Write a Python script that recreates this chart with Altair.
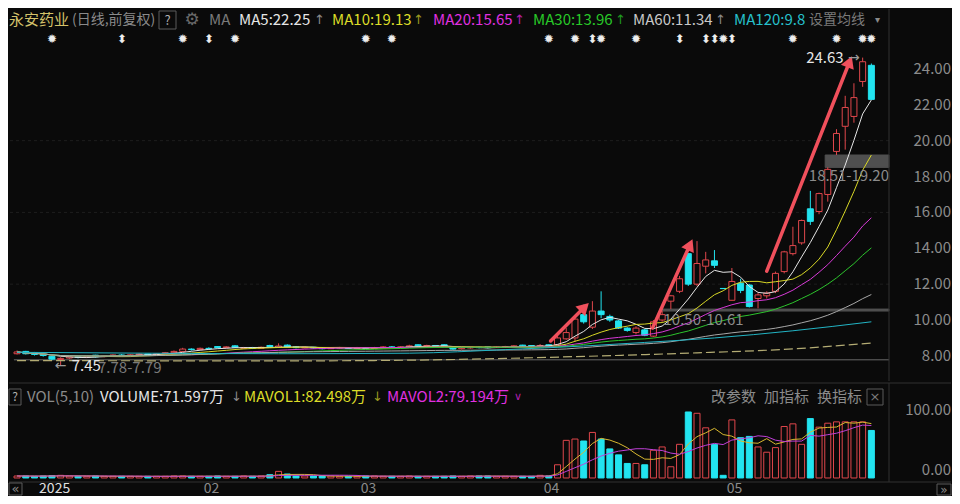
import math
import altair as alt
import pandas as pd
import numpy as np

# ---------------- data ----------------
opens = [
    8.12, 8.25, 8.18, 8.08, 7.98, 7.80, 7.88, 7.96, 7.92, 8.04,
    7.96, 8.00, 8.05, 8.02, 8.06, 8.10, 8.06, 8.12, 8.18, 8.25,
    8.38, 8.35, 8.42, 8.52, 8.46, 8.56, 8.42, 8.46, 8.42, 8.58,
    8.48, 8.60, 8.50, 8.45, 8.48, 8.46, 8.40, 8.44, 8.46, 8.42,
    8.45, 8.42, 8.46, 8.50, 8.48, 8.50, 8.62, 8.56, 8.58, 8.62,
    8.52, 8.40, 8.44, 8.48, 8.50, 8.46, 8.50, 8.52, 8.60, 8.58,
    8.52, 8.62, 8.62, 8.95, 9.00, 10.30, 9.60, 10.50, 10.20, 9.95,
    9.55, 9.30, 9.45, 9.10, 10.00, 11.05, 11.60, 13.70, 12.00, 13.00,
    13.30, 11.76, 11.10, 12.05, 11.95, 11.20, 11.35, 11.60, 12.70, 13.70,
    14.30, 16.20, 16.05, 17.00, 19.40, 20.80, 21.35, 23.30, 24.20]
closes = [
    8.22, 8.12, 8.08, 8.02, 7.82, 7.86, 7.95, 7.92, 7.98, 7.95,
    8.00, 8.05, 8.02, 8.06, 8.10, 8.05, 8.12, 8.18, 8.25, 8.38,
    8.35, 8.42, 8.40, 8.46, 8.50, 8.48, 8.46, 8.42, 8.48, 8.52,
    8.55, 8.50, 8.46, 8.48, 8.44, 8.40, 8.44, 8.46, 8.42, 8.45,
    8.42, 8.46, 8.50, 8.48, 8.50, 8.56, 8.56, 8.58, 8.54, 8.56,
    8.38, 8.44, 8.48, 8.46, 8.46, 8.50, 8.52, 8.56, 8.54, 8.52,
    8.58, 8.56, 9.00, 9.30, 10.05, 9.90, 10.50, 10.30, 10.00, 9.55,
    9.42, 9.55, 9.15, 9.90, 10.30, 11.35, 12.30, 12.00, 13.15, 13.35,
    13.05, 11.75, 12.15, 11.65, 10.75, 11.40, 11.50, 12.60, 13.80, 14.15,
    15.55, 15.50, 17.05, 18.40, 20.40, 21.85, 22.40, 24.40, 22.30]
highs = [
    8.30, 8.28, 8.22, 8.12, 8.02, 7.92, 7.99, 8.00, 8.02, 8.06,
    8.04, 8.08, 8.10, 8.10, 8.14, 8.12, 8.16, 8.22, 8.30, 8.45,
    8.42, 8.46, 8.48, 8.55, 8.54, 8.60, 8.50, 8.50, 8.52, 8.62,
    8.70, 8.64, 8.54, 8.52, 8.50, 8.48, 8.48, 8.50, 8.48, 8.50,
    8.48, 8.50, 8.54, 8.55, 8.54, 8.62, 8.64, 8.62, 8.60, 8.64,
    8.54, 8.48, 8.52, 8.52, 8.52, 8.54, 8.56, 8.60, 8.62, 8.60,
    8.66, 8.64, 9.10, 9.55, 10.20, 10.85, 11.05, 11.60, 10.30, 10.00,
    9.60, 9.65, 9.50, 10.00, 10.50, 11.40, 12.46, 13.70, 14.40, 13.80,
    13.90, 11.76, 12.90, 12.30, 12.00, 11.50, 11.60, 12.70, 13.86, 15.20,
    15.60, 17.20, 17.10, 18.51, 20.64, 22.50, 23.20, 24.63, 24.30]
lows = [
    8.08, 8.08, 8.02, 7.96, 7.76, 7.45, 7.82, 7.86, 7.88, 7.90,
    7.92, 7.96, 7.98, 7.99, 8.02, 8.00, 8.03, 8.08, 8.15, 8.22,
    8.30, 8.32, 8.36, 8.42, 8.42, 8.45, 8.40, 8.38, 8.40, 8.48,
    8.45, 8.46, 8.42, 8.42, 8.40, 8.36, 8.38, 8.40, 8.38, 8.40,
    8.38, 8.40, 8.44, 8.45, 8.44, 8.48, 8.52, 8.52, 8.50, 8.52,
    8.34, 8.36, 8.40, 8.42, 8.42, 8.44, 8.46, 8.48, 8.50, 8.48,
    8.50, 8.52, 8.58, 8.90, 8.80, 9.80, 9.50, 10.10, 9.90, 9.50,
    9.35, 9.20, 9.10, 9.05, 9.90, 10.61, 11.50, 11.90, 11.90, 12.60,
    12.90, 11.75, 11.10, 11.50, 10.70, 10.65, 11.20, 11.50, 12.60, 13.60,
    14.20, 15.30, 15.90, 16.60, 19.20, 19.50, 21.00, 23.00, 22.30]
volumes = [  # 万手
    3, 3, 2.5, 3, 3.5, 4, 3, 2.5, 2.5, 3,
    2.5, 2.5, 2.5, 2.5, 2.5, 2.5, 2.5, 2.5, 3, 3,
    2.5, 2.5, 2.5, 3, 2.5, 2.5, 3, 2.5, 3, 5,
    10, 6, 3, 3, 3, 3, 3, 2.5, 2.5, 2.5,
    3, 3, 2.5, 2.5, 2.5, 3, 2.5, 2.5, 2.5, 2.5,
    3, 2.5, 3, 3, 3, 2.5, 2.5, 2.5, 2.5, 2.5,
    4, 3, 20, 57, 59, 56, 69, 59, 44, 35,
    22, 22, 20, 42, 47, 17, 51, 100, 98, 76,
    51, 4, 88, 61, 63, 47, 39, 46, 78, 82,
    51, 90, 77, 83, 85, 85, 85, 85, 72]

# long moving averages (bar index, value)
ma120_i = [0, 15, 30, 45, 56, 65, 72, 80, 89, 98]
ma120_v = [8.20, 8.15, 8.12, 8.15, 8.35, 8.55, 8.75, 9.00, 9.40, 9.90]
ma250_i = [0, 30, 45, 56, 67, 78, 89, 98]
ma250_v = [7.74, 7.72, 7.76, 7.86, 8.00, 8.17, 8.39, 8.72]

# gap zones
gap_start = [-0.35, 73.7, 92.7]
gap_lo = [7.78, 10.50, 18.51]
gap_hi = [7.79, 10.61, 19.20]

# hand-drawn arrows (bar index, price)
arrow_x0 = [61.2, 72.9, 86.0]
arrow_y0 = [8.83, 9.56, 12.72]
arrow_x1 = [65.1, 77.2, 95.5]
arrow_y1 = [10.72, 14.20, 24.40]

# event markers
star_i = [4, 12, 19, 22, 25, 40, 43, 61, 64, 66, 67, 71, 76, 79, 80, 81, 82, 89, 94, 97, 98]
star_s = ["✹", "⬍", "✹", "⬍", "✹", "✹", "✹", "✹", "✹", "⬍", "✹", "✹", "⬍", "⬍", "⬍", "✹", "⬍", "✹", "✹", "✹", "✹"]

month_i = [5, 23, 41, 62, 83]
month_lbl = ["2025", "02", "03", "04", "05"]

price_ticks = [8, 10, 12, 14, 16, 18, 20, 22, 24]
grid_prices = [12, 16, 20]
vol_top_tick = 100
vol_zero_tick = 0

high_mark_i, high_mark_v = 97, 24.63
low_mark_i, low_mark_v = 5, 7.45

assert len(opens) == len(closes) == len(highs) == len(lows) == len(volumes) == 99

# ---------------- styling ----------------
FONT = "Noto Sans CJK SC"
SYM = "DejaVu Sans"
BG = "#0a0a0a"
RED = "#e0474c"
CYAN = "#22e4f0"
ARROW = "#f0505c"
GRID = "#1e1e1e"
SEP = "#303030"
TXT_G = "#8a8a8a"

W, HP, HV = 880, 372, 112
X_DOM = [-0.35, 99.45]
P_DOM = [6.60, 27.34]
V_DOM = [-25.8, 143.9]
KX = W / (X_DOM[1] - X_DOM[0])
KY = HP / (P_DOM[1] - P_DOM[0])
HY = 11      # header row
VH = 14      # volume header row
DATE_Y = 106

df = pd.DataFrame({"i": range(99), "open": opens, "high": highs, "low": lows,
                   "close": closes, "vol": volumes})
df["up"] = df["close"] >= df["open"]
for n in (5, 10, 20, 30, 60):
    df[f"ma{n}"] = df["close"].rolling(n, min_periods=1).mean()
df["mavol1"] = df["vol"].rolling(5, min_periods=1).mean()
df["mavol2"] = df["vol"].rolling(10, min_periods=1).mean()

xs = alt.Scale(domain=X_DOM, nice=False, zero=False)
ps = alt.Scale(domain=P_DOM, nice=False, zero=False)
vs = alt.Scale(domain=V_DOM, nice=False, zero=False)


def X(f="i"):
    return alt.X(f"{f}:Q", scale=xs, axis=None)


def PY(f):
    return alt.Y(f"{f}:Q", scale=ps, axis=None)


def VY(f):
    return alt.Y(f"{f}:Q", scale=vs, axis=None)


def txt(s, x, y, color, size=15, align="left", font=FONT, weight="normal"):
    return alt.Chart(pd.DataFrame({"t": [s]})).mark_text(
        align=align, baseline="middle", font=font, fontSize=size, color=color,
        fontWeight=weight).encode(x=alt.value(x), y=alt.value(y), text="t:N")


def box(x0, x1, y0, y1, color="#5a5a5a"):
    return alt.Chart(pd.DataFrame({"a": [0]})).mark_rect(
        fillOpacity=0, stroke=color, strokeWidth=1).encode(
        x=alt.value(x0), x2=alt.value(x1), y=alt.value(y0), y2=alt.value(y1))


def hline(y, x0, x1, color=SEP):
    return alt.Chart(pd.DataFrame({"a": [0]})).mark_rule(color=color, strokeWidth=1).encode(
        x=alt.value(x0), x2=alt.value(x1), y=alt.value(y))


def vline(x, y0, y1, color=SEP):
    return alt.Chart(pd.DataFrame({"a": [0]})).mark_rule(color=color, strokeWidth=1).encode(
        x=alt.value(x), y=alt.value(y0), y2=alt.value(y1))


up_or = lambda a, b: alt.condition("datum.up", alt.value(a), alt.value(b))

base = alt.Chart(df)

# ---------------- price panel ----------------
grid = alt.Chart(pd.DataFrame({"p": grid_prices})).mark_rule(
    color=GRID, strokeDash=[3, 3], strokeWidth=1).encode(y=PY("p"))

gaps = alt.Chart(pd.DataFrame({"s": gap_start, "lo": gap_lo, "hi": gap_hi})).mark_rect(
    fill="#5c5c5c", stroke="#5c5c5c", strokeWidth=1, opacity=0.85).encode(
    x=X("s"), x2=alt.value(W), y=PY("lo"), y2="hi")

wick = base.mark_rule(strokeWidth=1).encode(
    x=X(), y=PY("low"), y2="high", color=up_or(RED, CYAN))
body = base.mark_bar(size=6, strokeWidth=1).encode(
    x=X(), y=PY("open"), y2="close", fill=up_or(BG, CYAN), stroke=up_or(RED, CYAN))

ma_colors = {5: "#e6e6e6", 10: "#d8d826", 20: "#d83ad8", 30: "#2cc42c", 60: "#a8a8a8"}
ma_lines = [base.mark_line(color=c, strokeWidth=1).encode(x=X(), y=PY(f"ma{n}"))
            for n, c in ma_colors.items()]
ma120 = alt.Chart(pd.DataFrame({"i": ma120_i, "v": ma120_v})).mark_line(
    color="#22b4c4", strokeWidth=1, interpolate="monotone").encode(x=X(), y=PY("v"))
ma250 = alt.Chart(pd.DataFrame({"i": ma250_i, "v": ma250_v})).mark_line(
    color="#b4ac74", strokeWidth=1.2, strokeDash=[9, 4], interpolate="monotone").encode(x=X(), y=PY("v"))

ang = [math.degrees(math.atan2((x1 - x0) * KX, (y1 - y0) * KY))
       for x0, y0, x1, y1 in zip(arrow_x0, arrow_y0, arrow_x1, arrow_y1)]
arr_df = pd.DataFrame({"x0": arrow_x0, "y0": arrow_y0, "x1": arrow_x1, "y1": arrow_y1, "ang": ang})
shaft = alt.Chart(arr_df).mark_rule(color=ARROW, strokeWidth=3.5, strokeCap="round").encode(
    x=X("x0"), y=PY("y0"), x2="x1", y2="y1")
head = alt.Chart(arr_df).mark_point(shape="triangle-up", filled=True, size=190, color=ARROW,
                                    opacity=1).encode(
    x=X("x1"), y=PY("y1"), angle=alt.Angle("ang:Q", scale=None))

stars = alt.Chart(pd.DataFrame({"i": star_i, "s": star_s})).mark_text(
    font=SYM, fontSize=12, color="#ededed", baseline="middle").encode(
    x=X(), y=alt.value(30), text="s:N")

hi_df = pd.DataFrame({"i": [high_mark_i], "v": [high_mark_v], "t": [f"{high_mark_v:.2f}"]})
hi_txt = alt.Chart(hi_df).mark_text(align="right", baseline="middle", font=FONT, fontSize=15,
                                    color="#e6e6e6", dx=-19).encode(x=X(), y=PY("v"), text="t:N")
hi_arr = alt.Chart(hi_df).mark_text(align="right", baseline="middle", font=SYM, fontSize=14,
                                    color="#9a9a9a", dx=-3).encode(x=X(), y=PY("v"), text=alt.value("→"))
lo_df = pd.DataFrame({"i": [low_mark_i], "v": [low_mark_v], "t": [f"{low_mark_v:.2f}"]})
lo_arr = alt.Chart(lo_df).mark_text(align="left", baseline="middle", font=SYM, fontSize=14,
                                    color="#9a9a9a", dx=-6).encode(x=X(), y=PY("v"), text=alt.value("←"))
lo_txt = alt.Chart(lo_df).mark_text(align="left", baseline="middle", font=FONT, fontSize=15,
                                    color="#e6e6e6", dx=11).encode(x=X(), y=PY("v"), text="t:N")

gap_lbl_df = pd.DataFrame({"s": gap_start, "lo": gap_lo,
                           "t": [f"{a:.2f}-{b:.2f}" for a, b in zip(gap_lo, gap_hi)]})
g1 = alt.Chart(gap_lbl_df.iloc[[1]]).mark_text(align="left", baseline="top", font=FONT, fontSize=15,
                                               color="#8c8c8c", dx=4, dy=2).encode(
    x=X("s"), y=PY("lo"), text="t:N")
g2 = alt.Chart(gap_lbl_df.iloc[[2]]).mark_text(align="right", baseline="top", font=FONT, fontSize=15,
                                               color="#8c8c8c", dy=2).encode(
    x=alt.value(W), y=PY("lo"), text="t:N")
g0 = alt.Chart(gap_lbl_df.iloc[[0]]).mark_text(align="left", baseline="top", font=FONT, fontSize=15,
                                               color="#7a7a7a", dy=1).encode(
    x=alt.value(89), y=PY("lo"), text="t:N")

pticks = alt.Chart(pd.DataFrame({"p": price_ticks, "t": [f"{p:.2f}" for p in price_ticks]})).mark_text(
    align="right", baseline="middle", font=FONT, fontSize=15, color="#8c8c8c").encode(
    x=alt.value(942), y=PY("p"), text="t:N")

header = [
    txt("永安药业", 0, HY, "#d4c26a"),
    txt("(日线,前复权)", 63, HY, TXT_G, 14),
    box(150, 167, 2, 20), txt("?", 158.5, HY + 0.5, "#b0b0b0", 13, "center"),
    txt("⚙", 183, HY, "#6a6a6a", 17, "center", SYM),
    txt("MA", 200, HY, "#7a7a7a"),
    txt("MA5:22.25", 230, HY, "#e6e6e6"), txt("↑", 305, HY, "#8a8a8a", 13, font=SYM),
    txt("MA10:19.13", 323, HY, "#dcdc28"), txt("↑", 404, HY, "#9a9a20", 13, font=SYM),
    txt("MA20:15.65", 424, HY, "#e030e0"), txt("↑", 505, HY, "#b020b0", 13, font=SYM),
    txt("MA30:13.96", 524, HY, "#28c828"), txt("↑", 606, HY, "#209a20", 13, font=SYM),
    txt("MA60:11.34", 624, HY, "#c8c8c8"), txt("↑", 706, HY, "#8a8a8a", 13, font=SYM),
    txt("MA120:9.8", 725, HY, "#26c0cc"),
    txt("设置均线", 800, HY, "#7a7a7a", 14),
    txt("▾", 866, HY, "#8a8a8a", 10, font=SYM),
]

price = alt.layer(
    grid, gaps, wick, body, *ma_lines, ma120, ma250, shaft, head, stars,
    hi_txt, hi_arr, lo_arr, lo_txt, g0, g1, g2, pticks,
    vline(W, 0, HP), *header,
).properties(width=W, height=HP)

# ---------------- volume panel ----------------
vbar = base.mark_bar(size=6, strokeWidth=1).encode(
    x=X(), y=VY("vol"), y2=alt.datum(0), fill=up_or(BG, CYAN), stroke=up_or(RED, CYAN))
mv1 = base.mark_line(color="#d8b830", strokeWidth=1).encode(x=X(), y=VY("mavol1"))
mv2 = base.mark_line(color="#c040d8", strokeWidth=1).encode(x=X(), y=VY("mavol2"))


def vtick(v, dy):
    return alt.Chart(pd.DataFrame({"v": [v], "t": [f"{v:.2f}"]})).mark_text(
        align="right", baseline="middle", font=FONT, fontSize=15, color="#8c8c8c", dy=dy).encode(
        x=alt.value(942), y=VY("v"), text="t:N")


mdf = pd.DataFrame({"i": month_i, "t": month_lbl, "first": [True] + [False] * (len(month_i) - 1)})
months = alt.Chart(mdf).mark_text(baseline="middle", font=FONT, fontSize=14, dx=-6).encode(
    x=X(), y=alt.value(DATE_Y), text="t:N",
    color=alt.condition("datum.first", alt.value("#e0e0e0"), alt.value("#8a8a8a")))

vheader = [
    box(0, 12, VH - 8, VH + 8), txt("?", 6, VH, "#b0b0b0", 12, "center"),
    txt("VOL(5,10)", 18, VH, TXT_G),
    txt("VOLUME:71.597万", 91, VH, "#e6e6e6"), txt("↓", 222, VH, "#8a8a8a", 13, font=SYM),
    txt("MAVOL1:82.498万", 235, VH, "#dcdc28"), txt("↓", 363, VH, "#9a9a20", 13, font=SYM),
    txt("MAVOL2:79.194万", 378, VH, "#e030e0"), txt("∨", 505, VH, "#b020b0", 11, font=SYM),
    txt("改参数", 702, VH, TXT_G), txt("加指标", 755, VH, TXT_G), txt("换指标", 808, VH, TXT_G),
    box(858, 874, VH - 8, VH + 8), txt("×", 866, VH, "#7a7a7a", 13, "center", SYM),
    box(0, 13, 100, 112), txt("«", 6.5, DATE_Y, "#8a8a8a", 13, "center", SYM),
    box(928, 942, 101, 112), txt("»", 935, DATE_Y + 0.5, "#8a8a8a", 12, "center", SYM),
]

volume = alt.layer(
    vbar, mv1, mv2, vtick(vol_top_tick, -2), vtick(vol_zero_tick, -8), months,
    hline(0, 0, 942), hline(99, 0, 942), vline(W, 0, 99),
    *vheader,
).properties(width=W, height=HV)

chart = alt.vconcat(price, volume, spacing=0).configure(
    background=BG, padding=0).configure_view(stroke=None)

chart.save("out.html", embed_options={"renderer": "svg", "actions": False})
